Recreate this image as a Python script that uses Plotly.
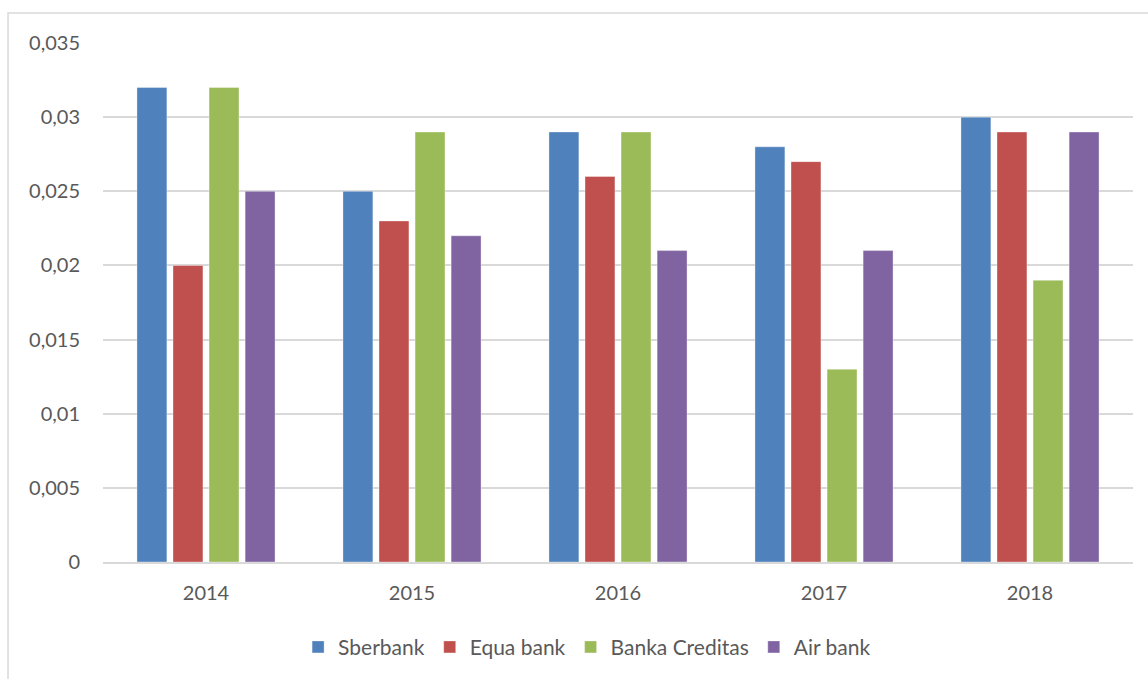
import plotly.graph_objects as go

years = ["2014", "2015", "2016", "2017", "2018"]
sberbank = [0.032, 0.025, 0.029, 0.028, 0.030]
equa_bank = [0.020, 0.023, 0.026, 0.027, 0.029]
banka_creditas = [0.032, 0.029, 0.029, 0.013, 0.019]
air_bank = [0.025, 0.022, 0.021, 0.021, 0.029]
series_names = ["Sberbank", "Equa bank", "Banka Creditas", "Air bank"]
series_colors = ["#4F81BD", "#C0504D", "#9BBB59", "#8064A2"]
tick_vals = [0, 0.005, 0.01, 0.015, 0.02, 0.025, 0.03, 0.035]
tick_text = ["0", "0,005", "0,01", "0,015", "0,02", "0,025", "0,03", "0,035"]

fig = go.Figure()
for name, vals, col in zip(series_names, [sberbank, equa_bank, banka_creditas, air_bank], series_colors):
    fig.add_trace(go.Bar(x=years, y=vals, name=name, marker=dict(color=col, line=dict(color="rgba(255,255,255,0.35)", width=1))))

fig.update_layout(
    width=1148, height=679,
    margin=dict(l=103, r=15, t=43, b=116),
    plot_bgcolor="white", paper_bgcolor="white",
    barmode="group", bargap=0.30, bargroupgap=0.17,
    font=dict(family="Lato, Open Sans, sans-serif", size=20, color="#595959"),
    xaxis=dict(showgrid=False, showline=True, linecolor="#D9D9D9", linewidth=2, ticks="",
               ticklabelstandoff=12, tickfont=dict(size=20)),
    yaxis=dict(range=[0, 0.035], tickvals=tick_vals, ticktext=tick_text, showgrid=True,
               gridcolor="#D9D9D9", gridwidth=2, zeroline=False, ticks="", ticklabelstandoff=22,
               tickfont=dict(size=20)),
    legend=dict(orientation="h", x=0.47, xanchor="center", y=-0.162, yanchor="middle",
                font=dict(size=21), itemwidth=30, traceorder="normal"),
    shapes=[dict(type="rect", xref="paper", yref="paper", x0=-0.0922, x1=1.2, y0=-0.3, y1=1.0577,
                 line=dict(color="#D9D9D9", width=1.5), fillcolor="rgba(0,0,0,0)", layer="below")],
)
fig.write_html("out.html")
